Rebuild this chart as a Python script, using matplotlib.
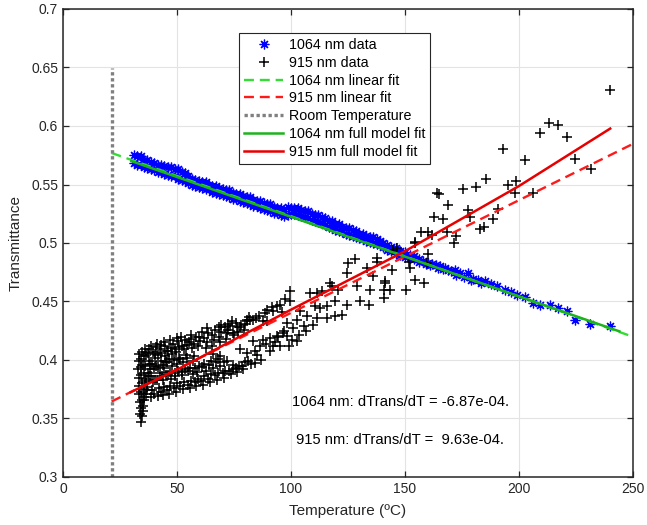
import numpy as np
import matplotlib
matplotlib.use('Agg')
import matplotlib.pyplot as plt
from matplotlib.ticker import FormatStrFormatter, MultipleLocator

plt.rcParams['font.family'] = ['Liberation Sans', 'DejaVu Sans']

# ---------------- 1064 nm data (blue asterisks) ----------------
band_T = [31, 32.5, 34, 35.5, 37, 38.5, 40, 41.5, 43, 44.5, 46, 47.5, 49, 50.5, 52, 53.5,
          55, 56.5, 58, 59.5, 61, 62.5, 64, 65.5, 67, 68.5, 70, 71.5, 73, 74.5, 76, 77.5,
          79, 80.5, 82, 83.5, 85, 86.5, 88, 89.5, 91, 92.5, 94, 95.5, 97, 98.5, 100]
band_upper = [.575, .574, .574, .571, .571, .569, .568, .567, .567, .566, .565, .565, .563, .563, .561, .560,
              .557, .555, .554, .553, .552, .552, .550, .549, .549, .547, .546, .545, .545, .543, .542, .542,
              .540, .539, .539, .537, .536, .536, .534, .533, .533, .531, .530, .530, .527, .531, .530]
band_lower = [.568, .567, .567, .565, .564, .563, .562, .561, .561, .559, .558, .557, .557, .555, .554, .553,
              .551, .550, .549, .548, .547, .546, .546, .544, .543, .542, .541, .540, .539, .538, .538, .536,
              .535, .534, .533, .532, .532, .530, .529, .528, .527, .526, .526, .524, .523, .524, .525]

band2_T = [101.5, 103, 104.5, 106, 107.5, 109, 110.5, 112, 113.5, 115, 116.5, 118, 119.5, 121, 122.5,
           124, 125.5, 127, 128.5, 130, 131.5, 133, 134.5, 136, 137.5, 139, 140.5, 142, 144, 146, 148,
           150, 152, 154, 156]
band2_upper = [.530, .530, .528, .527, .527, .525, .524, .524, .522, .521, .519, .519, .516, .516, .514,
               .513, .513, .511, .510, .508, .508, .506, .505, .505, .503, .502, .500, .498, .497, .496, .493,
               .492, .490, .489, .486]
band2_lower = [.525, .524, .523, .522, .521, .520, .519, .518, .517, .515, .514, .513, .511, .510, .509,
               .508, .507, .506, .505, .504, .503, .502, .501, .500, .499, .498, .497, .494, .493, .491, .490,
               .488, .487, .486, .484]

tail_T = [158, 160, 162, 163.8, 165.5, 167.5, 169, 171.9, 174, 177.7, 180, 182, 185.1, 187.5, 190.2,
          193.9, 196.5, 199, 202.6, 206.3, 209.2, 213.7, 217.3, 220.9, 224.6, 231.1, 239.9,
          159, 161, 164.5, 166.5, 170, 172.5, 176, 179, 183.5]
tail_R = [.4845, .483, .482, .4816, .480, .4788, .477, .4773, .474, .4745, .469, .468, .4673, .465, .463,
          .4602, .458, .4559, .4539, .4487, .4473, .4473, .4444, .4415, .4344, .4307, .4287,
          .482, .481, .479, .478, .476, .473, .471, .468, .466]

# ---------------- 915 nm data (black plus) ----------------
col_T = [34.3, 34.8, 33.8, 35.3, 34.0, 35.0, 33.6, 34.6, 35.6, 33.3, 34.3, 35.4, 33.4, 34.5, 35.8,
         33.2, 34.4, 35.5, 33.1, 34.2, 35.3, 33.3, 34.4, 35.6, 33.4, 34.7, 36.0]
col_R = [0.347, 0.352, 0.354, 0.356, 0.359, 0.361, 0.364, 0.366, 0.368, 0.371, 0.373, 0.375, 0.378,
         0.380, 0.382, 0.385, 0.387, 0.389, 0.392, 0.394, 0.396, 0.399, 0.401, 0.403, 0.405, 0.407, 0.409]

cloud1_T = [35.5, 36.5, 37.0, 36.2, 37.3, 36.0, 37.5, 36.4, 37.8, 38.5,
            38.5, 39.0, 39.6, 38.8, 40.0, 39.2, 40.4, 39.5, 40.8,
            41.5, 42.0, 41.2, 42.4, 41.6, 42.8, 41.8, 42.5, 43.0,
            44.0, 44.5, 43.8, 45.0, 44.2, 45.3, 44.6, 45.6, 44.8]
cloud1_R = [0.366, 0.371, 0.377, 0.384, 0.389, 0.395, 0.399, 0.404, 0.409, 0.412,
            0.368, 0.374, 0.381, 0.386, 0.392, 0.397, 0.402, 0.407, 0.411,
            0.369, 0.376, 0.383, 0.389, 0.394, 0.399, 0.404, 0.409, 0.413,
            0.370, 0.377, 0.383, 0.387, 0.393, 0.398, 0.403, 0.408, 0.412]

cloud2_T = [46.5, 47.0, 47.5, 46.8, 47.8, 46.6, 48.0, 47.2, 48.4,
            49.5, 50.0, 49.2, 50.6, 49.8, 50.8, 49.6, 51.0, 50.4,
            52.5, 53.0, 52.2, 53.5, 52.8, 54.0, 53.2, 54.4, 53.6]
cloud2_R = [0.371, 0.378, 0.384, 0.390, 0.395, 0.401, 0.405, 0.410, 0.414,
            0.373, 0.380, 0.386, 0.391, 0.397, 0.402, 0.407, 0.411, 0.416,
            0.375, 0.381, 0.387, 0.392, 0.398, 0.404, 0.409, 0.413, 0.417]

cloud3_T = [55.5, 56.0, 56.8, 55.8, 57.0, 56.4, 57.5, 56.0,
            58.5, 59.2, 58.8, 59.8, 59.0, 60.2, 59.5,
            61.5, 62.0, 62.8, 61.8, 62.5, 63.2, 62.0, 63.5,
            64.5, 65.0, 65.6, 64.8, 66.0, 65.2, 66.2, 65.5, 66.5]
cloud3_R = [0.376, 0.382, 0.388, 0.393, 0.399, 0.410, 0.414, 0.418,
            0.378, 0.384, 0.390, 0.395, 0.412, 0.416, 0.420,
            0.379, 0.386, 0.391, 0.397, 0.410, 0.415, 0.419, 0.423,
            0.381, 0.388, 0.393, 0.399, 0.405, 0.412, 0.417, 0.421, 0.426]

cloud4_T = [67.5, 68.2, 68.8, 67.8, 68.8, 69.0, 68.4, 69.5, 68.6,
            70.5, 71.2, 70.8, 71.8, 71.5, 72.0, 71.2, 72.5,
            73.5, 74.5, 74.7, 75.0, 74.7, 73.3, 74.2,
            76.5, 77.2, 77.7, 76.8, 77.5, 76.0,
            79.0, 80.0, 80.6, 79.5, 80.6, 79.8]
cloud4_R = [0.383, 0.389, 0.395, 0.401, 0.403, 0.415, 0.420, 0.424, 0.428,
            0.385, 0.391, 0.398, 0.399, 0.418, 0.423, 0.428, 0.431,
            0.388, 0.392, 0.396, 0.421, 0.423, 0.429, 0.433,
            0.390, 0.395, 0.409, 0.424, 0.428, 0.432,
            0.392, 0.398, 0.406, 0.426, 0.4345, 0.431]

cloudfill_T = [36.8, 37.5, 38.0, 37.2, 38.2, 39.8, 40.5, 41.0, 40.2, 41.4, 43.0, 43.5, 44.0, 43.2, 44.5,
               45.8, 46.0, 45.5, 46.2, 47.0, 48.8, 49.0, 48.5, 49.3, 50.0, 51.5, 52.0, 51.5, 52.3, 51.8,
               54.8, 55.0, 54.5, 55.2, 56.0, 57.8, 58.0, 57.5, 58.4, 60.5, 61.0, 60.8, 63.5, 64.0, 63.2,
               66.8, 67.2, 70.0, 69.5, 73.0, 72.5, 75.8, 76.2, 78.5, 78.0, 81.0, 80.5]
cloudfill_R = [0.374, 0.386, 0.397, 0.406, 0.392, 0.371, 0.383, 0.395, 0.405, 0.414, 0.373, 0.386, 0.396,
               0.406, 0.415, 0.374, 0.387, 0.398, 0.408, 0.417, 0.376, 0.389, 0.400, 0.409, 0.419, 0.378,
               0.390, 0.401, 0.412, 0.420, 0.379, 0.391, 0.402, 0.415, 0.421, 0.381, 0.393, 0.403, 0.420,
               0.382, 0.394, 0.424, 0.384, 0.396, 0.427, 0.387, 0.398, 0.389, 0.430, 0.391, 0.426, 0.393,
               0.428, 0.395, 0.430, 0.399, 0.433]

branch_T = [81.5, 84.5, 86.0, 88.5, 91.5, 94.0, 96.0, 97.5, 84.0, 86.8, 89.0, 91.0, 93.0, 94.5, 97.0,
            99.0, 103.5, 106.5, 109.5]
branch_R = [0.437, 0.436, 0.438, 0.440, 0.445, 0.446, 0.441, 0.452, 0.408, 0.400, 0.414, 0.408, 0.415,
            0.420, 0.425, 0.412, 0.421, 0.425, 0.430]

cloud5_T = [82.1, 82.5, 83.5, 83.5, 84.3, 85.0, 86.4, 87.9, 87.9, 89.3, 89.3, 90.8, 92.3, 92.3, 93.7,
            95.2, 95.2, 96.6, 98.1, 98.1, 99.6, 99.6, 100.3, 101.0, 102.5, 102.5, 104.0, 105.5, 107.0,
            108.4, 110.5, 111.3, 111.3, 112.7, 113.5, 115.6, 115.6, 117.1, 117.9, 119.3, 119.3, 120.8,
            122.3, 124.4, 124.4, 125.2, 128.1, 128.9, 130.3, 133.2, 134.0, 134.7, 136.1, 137.6, 140.6,
            140.6, 141.3]
cloud5_R = [0.4345, 0.397, 0.4159, 0.4345, 0.3973, 0.4045, 0.4116, 0.4173, 0.433, 0.443, 0.433, 0.4187,
            0.4116, 0.4416, 0.4202, 0.4116, 0.4473, 0.423, 0.4316, 0.4202, 0.4588, 0.4502, 0.4173, 0.4273,
            0.4345, 0.4159, 0.4416, 0.4288, 0.4373, 0.4573, 0.4459, 0.4573, 0.4359, 0.4445, 0.4588, 0.4459,
            0.4359, 0.4659, 0.463, 0.4502, 0.4373, 0.4602, 0.4388, 0.4745, 0.4473, 0.483, 0.4859, 0.463,
            0.4502, 0.4788, 0.4473, 0.4602, 0.4716, 0.4873, 0.4602, 0.453, 0.4659]

sparse_T = [144.2, 146.3, 144.6, 150.3, 151.6, 152.2, 154.6, 154.4, 156.9, 158.5, 160.2, 160.2, 162.0,
            162.8, 164.0, 165.0, 166.5, 168.6, 168.9, 171.5, 172.3, 175.6, 177.7, 178.5, 181.1, 182.8,
            184.8, 185.5, 188.7, 190.9, 193.1, 195.3, 198.2, 198.6, 202.6, 206.0, 209.2, 213.2, 217.3,
            220.9, 224.6, 231.5, 239.9, 143.3, 137.6, 141.2, 154.4, 159.5]
sparse_R = [0.4767, 0.4958, 0.4938, 0.4602, 0.4836, 0.4788, 0.5007, 0.4688, 0.5095, 0.4659, 0.5092,
            0.4910, 0.5072, 0.5224, 0.5424, 0.5418, 0.5207, 0.5095, 0.5321, 0.5001, 0.5058, 0.5458,
            0.5286, 0.5224, 0.5478, 0.5121, 0.5138, 0.5549, 0.5207, 0.5292, 0.5801, 0.5492, 0.5429,
            0.5529, 0.5710, 0.5429, 0.5938, 0.6024, 0.6007, 0.5907, 0.5721, 0.5630, 0.6309, 0.4602,
            0.4836, 0.4673, 0.5002, 0.4830]

# ---------------- fits ----------------
room_T = 21.3
room_span = [0.3, 0.65]
lin_T = np.array([21.3, 250.0])
slope_1064, icpt_1064 = -6.87e-4, 0.5916
slope_915, icpt_915 = 9.63e-4, 0.3440

full_T_1064 = [30, 137, 244]
full_R_1064 = [0.5700, 0.4972, 0.4245]
full_T_915 = [29.7, 50, 100, 150, 200, 240]
full_R_915 = [0.3725, 0.3917, 0.443, 0.493, 0.5487, 0.5978]

# assemble
T1064 = band_T + band_T + band2_T + band2_T + tail_T
R1064 = band_upper + band_lower + band2_upper + band2_lower + tail_R
T915 = (col_T + cloud1_T + cloud2_T + cloud3_T + cloud4_T + cloudfill_T + branch_T
        + cloud5_T + sparse_T)
R915 = (col_R + cloud1_R + cloud2_R + cloud3_R + cloud4_R + cloudfill_R + branch_R
        + cloud5_R + sparse_R)

fig = plt.figure(figsize=(6.47, 5.25), dpi=100)
ax = fig.add_axes([63 / 647, 1 - 477 / 525, 570 / 647, 468 / 525])

ax.plot(T1064, R1064, ls='none', marker=(8, 2, 0), ms=7, mew=0.9, color='#0000FF',
        label='1064 nm data')
ax.plot(T915, R915, ls='none', marker='+', ms=7.2, mew=1.1, color='black', label='915 nm data')
ax.plot(lin_T, icpt_1064 + slope_1064 * lin_T, color='#33DD33', lw=1.7, ls=(0, (4.2, 2.5)),
        label='1064 nm linear fit')
ax.plot(lin_T, icpt_915 + slope_915 * lin_T, color='#FF1A1A', lw=1.7, ls=(0, (4.2, 2.5)),
        label='915 nm linear fit')
ax.plot([room_T, room_T], room_span, color='#808080', lw=2.4, ls=(0, (1, 0.8)),
        dash_capstyle='butt', label='Room Temperature')
ax.plot(full_T_1064, full_R_1064, color='#1DB31D', lw=1.8, label='1064 nm full model fit')
ax.plot(full_T_915, full_R_915, color='#E80000', lw=1.8, label='915 nm full model fit')

ax.text(148, 0.3645, f'1064 nm: dTrans/dT = {slope_1064: .2e}.', ha='center', va='center',
        fontsize=10.6)
ax.text(148, 0.3317, f'915 nm: dTrans/dT = {slope_915: .2e}.', ha='center', va='center',
        fontsize=10.6)

ax.set_xlim(0, 250)
ax.set_ylim(0.3, 0.7)
ax.xaxis.set_major_locator(MultipleLocator(50))
ax.yaxis.set_major_locator(MultipleLocator(0.05))
ax.yaxis.set_major_formatter(FormatStrFormatter('%g'))
ax.grid(True, color='#E3E3E3', lw=0.8)
ax.set_axisbelow(True)
ax.tick_params(direction='in', top=True, right=True, length=4, width=0.9, labelsize=10,
               colors='#262626')
for s in ax.spines.values():
    s.set_linewidth(1.1)
    s.set_color('#262626')
ax.set_xlabel('Temperature (ºC)', fontsize=11, color='#262626', labelpad=6)
ax.set_ylabel('Transmittance', fontsize=11, color='#262626', labelpad=6)

leg = ax.legend(loc='upper left', bbox_to_anchor=(0.3088, 0.949), borderaxespad=0, fontsize=10.3,
                numpoints=1, handlelength=2.75, handletextpad=0.4, labelspacing=0.27,
                borderpad=0.35, fancybox=False, framealpha=1, edgecolor='#262626')
leg.get_frame().set_linewidth(0.8)

fig.savefig('out.png', dpi=100)
